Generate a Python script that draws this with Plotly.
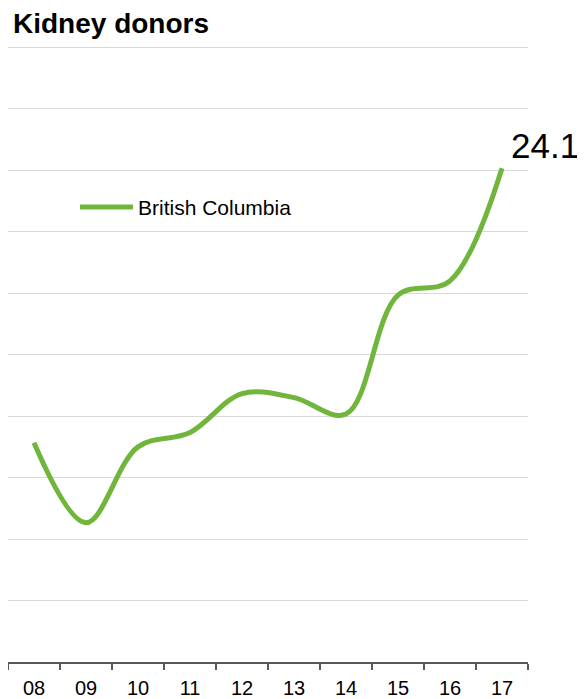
import plotly.graph_objects as go

years = ["08", "09", "10", "11", "12", "13", "14", "15", "16", "17"]
bc_values = [10.7, 6.8, 10.5, 11.2, 13.1, 12.9, 12.1, 17.9, 18.6, 24.1]
series_name = "British Columbia"
title_text = "Kidney donors"
last_label = "24.1"

GREEN = "rgb(112,181,60)"
FONT = "Arial, Liberation Sans, sans-serif"

# the page body adds an 8px offset, so the figure is sized to the visible area
OFF = 8
W, H = 585 - OFF, 699 - OFF
Y_TOP = 30.0          # value at the top gridline
Y_MAX = 30.5          # a little headroom so the top gridline is drawn
px_per_unit = (662 - 47) / Y_TOP
ml = 0
mr = W - (528 - OFF)
mb = H - (662 - OFF)
mt = round((47 - OFF) - (Y_MAX - Y_TOP) * px_per_unit)
pw = W - ml - mr
ph = H - mt - mb

fig = go.Figure()
fig.add_trace(go.Scatter(
    x=years, y=bc_values, mode="lines", name=series_name,
    line=dict(color=GREEN, width=5, shape="spline", smoothing=1.0),
    showlegend=False, hoverinfo="x+y",
))

# value label at the last point
fig.add_annotation(
    x=len(years) - 1, y=bc_values[-1], text=last_label, showarrow=False,
    xanchor="left", yanchor="bottom", xshift=7, yshift=1,
    font=dict(family=FONT, size=35, color="black"),
)

# manual legend (long line sample like the reference)
ly = (H - mb - (207 - OFF)) / ph
fig.add_shape(type="line", xref="paper", yref="paper",
              x0=(80 - OFF - ml) / pw, x1=(133 - OFF - ml) / pw, y0=ly, y1=ly,
              line=dict(color=GREEN, width=5))
fig.add_annotation(xref="paper", yref="paper", x=(136 - OFF - ml) / pw, y=ly,
                   text=series_name, showarrow=False, xanchor="left",
                   yanchor="middle", font=dict(family=FONT, size=21, color="black"))

fig.update_layout(
    width=W, height=H,
    margin=dict(l=ml, r=mr, t=mt, b=mb),
    paper_bgcolor="white", plot_bgcolor="white",
    title=dict(text="<b>" + title_text + "</b>", x=(13 - OFF) / W, xanchor="left",
               xref="container", yref="container", y=1 - (23 - OFF) / H, yanchor="middle",
               font=dict(family=FONT, size=28, color="black")),
    font=dict(family=FONT, color="black"),
)
fig.update_xaxes(
    type="category", range=[-0.5, 9.5], showline=True, linecolor="#595959", linewidth=1.5,
    ticks="outside", tickson="boundaries", ticklen=6, tickcolor="#595959", tickwidth=1.5,
    ticklabelstandoff=7,
    showgrid=False, tickfont=dict(family=FONT, size=20, color="black"),
)
fig.update_yaxes(
    range=[0, Y_MAX], dtick=3, showticklabels=False, showgrid=True,
    gridcolor="#d9d9d9", gridwidth=1, zeroline=False, showline=False, ticks="",
)

fig.write_html("out.html")
